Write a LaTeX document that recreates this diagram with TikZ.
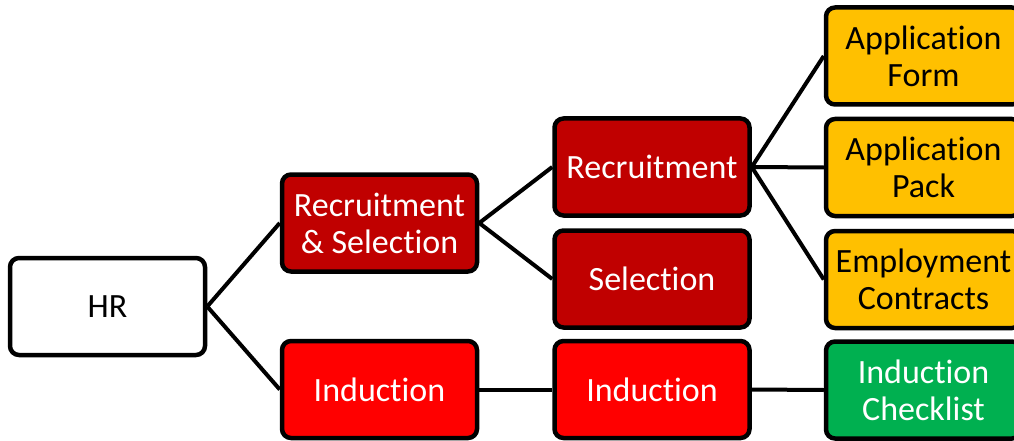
\documentclass[tikz,border=0pt]{standalone}
\usepackage{fontspec}
\setmainfont[Ligatures={NoCommon}]{Carlito}
\definecolor{darkred}{HTML}{C00000}
\definecolor{brightred}{HTML}{FF0000}
\definecolor{amber}{HTML}{FFC000}
\definecolor{leaf}{HTML}{00B050}
\begin{document}
\begin{tikzpicture}[x=1pt,y=-1pt,
  box/.style={draw=black, line width=4.5pt, rounded corners=9pt, minimum width=195pt, minimum height=97pt,
    align=center, inner sep=0pt, font=\fontsize{34}{37}\selectfont},
  wbox/.style={box, fill=white, text=black},
  drbox/.style={box, fill=darkred, text=white},
  rbox/.style={box, fill=brightred, text=white},
  ybox/.style={box, fill=amber, text=black},
  gbox/.style={box, fill=leaf, text=white},
  link/.style={line width=4pt}]
\useasboundingbox (0,0) rectangle (1014,441);
\begin{scope}
\clip (0,0) rectangle (1014,441);
\node[wbox] (hr) at (107.5,306.5) {HR};
\node[drbox] (rs) at (379.5,223) {Recruitment\\\& Selection};
\node[rbox] (ind1) at (379.5,389.5) {Induction};
\node[drbox] (rec) at (652,167) {Recruitment};
\node[drbox] (sel) at (652,279) {Selection};
\node[rbox] (ind2) at (652,389.5) {Induction};
\node[ybox] (af) at (923.5,56) {Application\\Form};
\node[ybox] (ap) at (923.5,167.5) {Application\\Pack};
\node[ybox] (ec) at (923.5,279.5) {Employment\\Contracts};
\node[gbox] (ic) at (923.5,390) {Induction\\Checklist};
\draw[link] (hr.east) -- (rs.west);
\draw[link] (hr.east) -- (ind1.west);
\draw[link] (rs.east) -- (rec.west);
\draw[link] (rs.east) -- (sel.west);
\draw[link] (rec.east) -- (af.west);
\draw[link] (rec.east) -- (ap.west);
\draw[link] (rec.east) -- (ec.west);
\draw[link] (ind1.east) -- (ind2.west);
\draw[link] (ind2.east) -- (ic.west);
\end{scope}
\end{tikzpicture}
\end{document}
